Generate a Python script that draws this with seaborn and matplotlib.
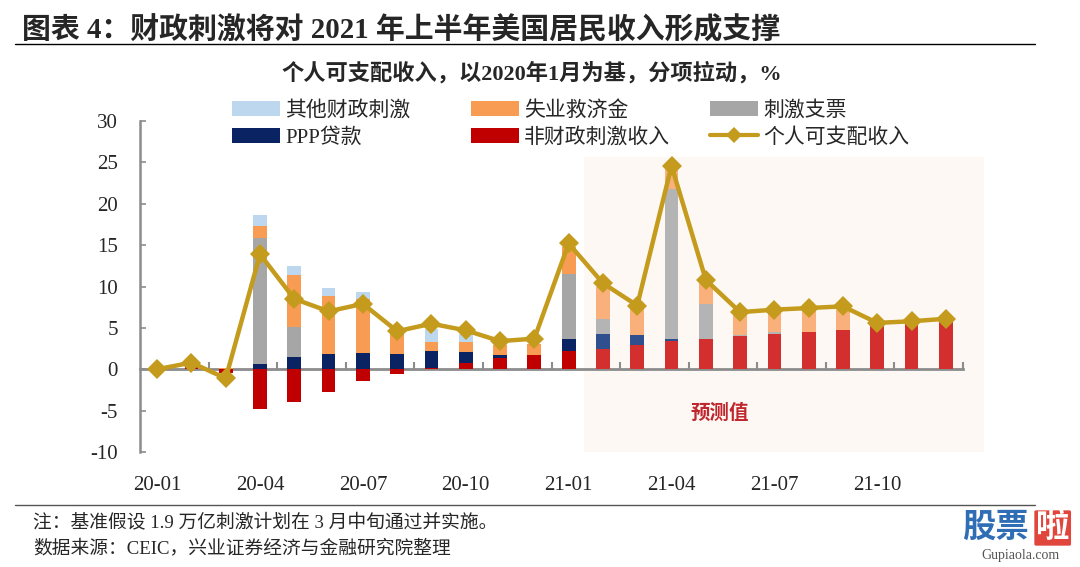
import numpy as np
import matplotlib
matplotlib.use("Agg")
import matplotlib.pyplot as plt
import seaborn as sns
from matplotlib.patches import Patch, Rectangle
from matplotlib.lines import Line2D

# ---------------- data ----------------
months = ["20-01", "20-02", "20-03", "20-04", "20-05", "20-06", "20-07", "20-08",
          "20-09", "20-10", "20-11", "20-12", "21-01", "21-02", "21-03", "21-04",
          "21-05", "21-06", "21-07", "21-08", "21-09", "21-10", "21-11", "21-12"]
tick_labels = ["20-01", "20-04", "20-07", "20-10", "21-01", "21-04", "21-07", "21-10"]
forecast_from = "21-02"

other_fiscal =    [0, 0, 0, 1.4, 1.1, 0.9, 0.85, 0, 1.6, 1.0, 0, 0,
                   0, 0, 0, 0, 0, 0, 0, 0, 0, 0, 0, 0]
unemployment =    [0, 0, 0.1, 1.4, 6.3, 7.1, 6.5, 2.8, 1.1, 1.2, 1.2, 1.3,
                   3.3, 3.9, 3.4, 2.7, 2.7, 2.8, 2.4, 2.5, 2.4, 0, 0, 0]
stimulus_checks = [0, 0, 0, 15.3, 3.6, 0, 0, 0, 0, 0, 0, 0,
                   7.9, 1.8, 0, 18.2, 4.2, 0.1, 0.2, 0, 0, 0, 0, 0]
ppp_loans =       [0, 0, 0, 0.6, 1.5, 1.8, 2.0, 1.9, 2.0, 1.4, 0.4, 0,
                   1.4, 1.9, 1.2, 0.2, 0, 0, 0, 0, 0, 0, 0, 0]
non_fiscal =      [0, 0.4, -0.5, -4.8, -3.9, -2.8, -1.4, -0.6, 0.2, 0.7, 1.3, 1.7,
                   2.2, 2.4, 2.9, 3.4, 3.7, 4.0, 4.3, 4.5, 4.8, 5.2, 5.5, 5.8]
disposable_income = [0, 0.8, -1.1, 13.9, 8.5, 7.0, 7.9, 4.6, 5.5, 4.7, 3.4, 3.7,
                     15.2, 10.4, 7.7, 24.6, 10.8, 6.9, 7.2, 7.4, 7.6, 5.6, 5.8, 6.1]

series_names = ["非财政刺激收入", "PPP贷款", "刺激支票", "失业救济金", "其他财政刺激"]
series_vals = [non_fiscal, ppp_loans, stimulus_checks, unemployment, other_fiscal]
colors_actual = ["#c00000", "#0a2463", "#a6a6a6", "#f79c52", "#bdd7ee"]
colors_fcst = ["#d32f2f", "#2f4f8e", "#b4b4b4", "#f9b07a", "#d0e3f4"]
line_color = "#c49b1c"

# ---------------- style ----------------
sns.set_theme(style="white")
plt.rcParams['font.family'] = ['Liberation Serif', 'Noto Sans CJK SC']
plt.rcParams['axes.unicode_minus'] = False

fig = plt.figure(figsize=(10.8, 5.67), dpi=100)
L, R, B, T = 140 / 1080, 963 / 1080, 1 - 452 / 567, 1 - 121 / 567
ax = fig.add_axes([L, B, R - L, T - B])

x = np.arange(len(months))
fidx = months.index(forecast_from)
is_fc = x >= fidx

# forecast shading
ax.add_patch(Rectangle((fidx - 0.55, -10), len(months) - fidx + 0.65, 35.6,
                       facecolor="#fdf8f4", edgecolor="none", zorder=0, clip_on=False))

pos_base = np.zeros(len(x))
neg_base = np.zeros(len(x))
for name, vals, ca, cf in zip(series_names, series_vals, colors_actual, colors_fcst):
    v = np.array(vals, dtype=float)
    bottoms = np.where(v >= 0, pos_base, neg_base)
    cols = [cf if f else ca for f in is_fc]
    ax.bar(x, v, bottom=bottoms, width=0.4, color=cols, edgecolor="none", zorder=2)
    pos_base = pos_base + np.where(v > 0, v, 0)
    neg_base = neg_base + np.where(v < 0, v, 0)

sns.lineplot(x=x, y=disposable_income, ax=ax, color=line_color, lw=3.2,
             marker="D", markersize=10, markeredgewidth=0, zorder=5)

ax.set_xlim(-0.5, len(months) - 0.5)
ax.set_ylim(-10, 30)
ax.set_yticks(np.arange(-10, 31, 5))
ax.tick_params(axis="y", direction="in", length=4, width=1.2, color="#8c8c8c",
               labelsize=15, pad=16, left=True)
ax.set_xticks([months.index(t) for t in tick_labels])
ax.set_xticklabels(tick_labels, fontsize=15)
ax.tick_params(axis="x", length=0, pad=17)
for s in ["top", "right", "bottom"]:
    ax.spines[s].set_visible(False)
ax.spines["left"].set_color("#8c8c8c")
ax.spines["left"].set_linewidth(1.8)
ax.grid(False)

# zero axis with tick marks
sec = ax.secondary_xaxis((0 - (-10)) / 40)
sec.set_xticks(np.arange(1.5, len(months), 2))
sec.tick_params(direction="in", length=5, width=1.5, color="#8c8c8c", labelbottom=False)
sec.spines["bottom"].set_color("#8c8c8c")
sec.spines["bottom"].set_linewidth(2)

ax.text(16.4, -5.3, "预测值", color="#c0272d", fontsize=14, fontweight="bold",
        fontstyle="italic", ha="center", va="center", zorder=6)

# ---------------- legends ----------------
handles = {n: Patch(facecolor=c, edgecolor="none") for n, c in zip(series_names, colors_actual)}
handles["个人可支配收入"] = Line2D([], [], color=line_color, lw=3, marker="D",
                                   markersize=8, markeredgewidth=0)
cols_layout = [(228, ["其他财政刺激", "PPP贷款"]),
               (467, ["失业救济金", "非财政刺激收入"]),
               (706, ["刺激支票", "个人可支配收入"])]
for px, names in cols_layout:
    leg = fig.legend([handles[n] for n in names], names, loc="upper left",
                     bbox_to_anchor=(px / 1080 - 0.008, 1 - 88 / 567), frameon=False,
                     fontsize=15, handlelength=2.3, handleheight=0.75,
                     handletextpad=0.25, labelspacing=0.35, borderpad=0.1)

# ---------------- titles & notes ----------------
fig.text(22 / 1080, 1 - 30 / 567, "图表 4：财政刺激将对 2021 年上半年美国居民收入形成支撑",
         fontsize=20.8, fontweight="bold", va="center", ha="left")
fig.add_artist(Line2D([15 / 1080, 1035 / 1080], [1 - 44 / 567] * 2,
                      transform=fig.transFigure, color="black", lw=1))
fig.text(532 / 1080, 1 - 73 / 567, "个人可支配收入，以2020年1月为基，分项拉动，%",
         fontsize=16, fontweight="bold", va="center", ha="center")
fig.add_artist(Line2D([15 / 1080, 1035 / 1080], [1 - 505 / 567] * 2,
                      transform=fig.transFigure, color="#555555", lw=1))
fig.text(33 / 1080, 1 - 522 / 567, "注：基准假设 1.9 万亿刺激计划在 3 月中旬通过并实施。",
         fontsize=13.5, va="center", ha="left")
fig.text(33 / 1080, 1 - 548 / 567, "数据来源：CEIC，兴业证券经济与金融研究院整理",
         fontsize=13.5, va="center", ha="left")

# watermark
fig.text(962 / 1080, 1 - 528 / 567, "股票", fontsize=24, fontweight="bold",
         color="#2f6db5", va="center", ha="left")
fig.text(1036 / 1080, 1 - 528 / 567, "啦", fontsize=24, fontweight="bold",
         color="white", va="center", ha="left",
         bbox=dict(facecolor="#e0463c", edgecolor="none", boxstyle="round,pad=0.05"))
fig.text(1020 / 1080, 1 - 556 / 567, "Gupiaola.com", fontsize=10, color="#555555",
         va="center", ha="center")

fig.savefig("out.png", dpi=100)
